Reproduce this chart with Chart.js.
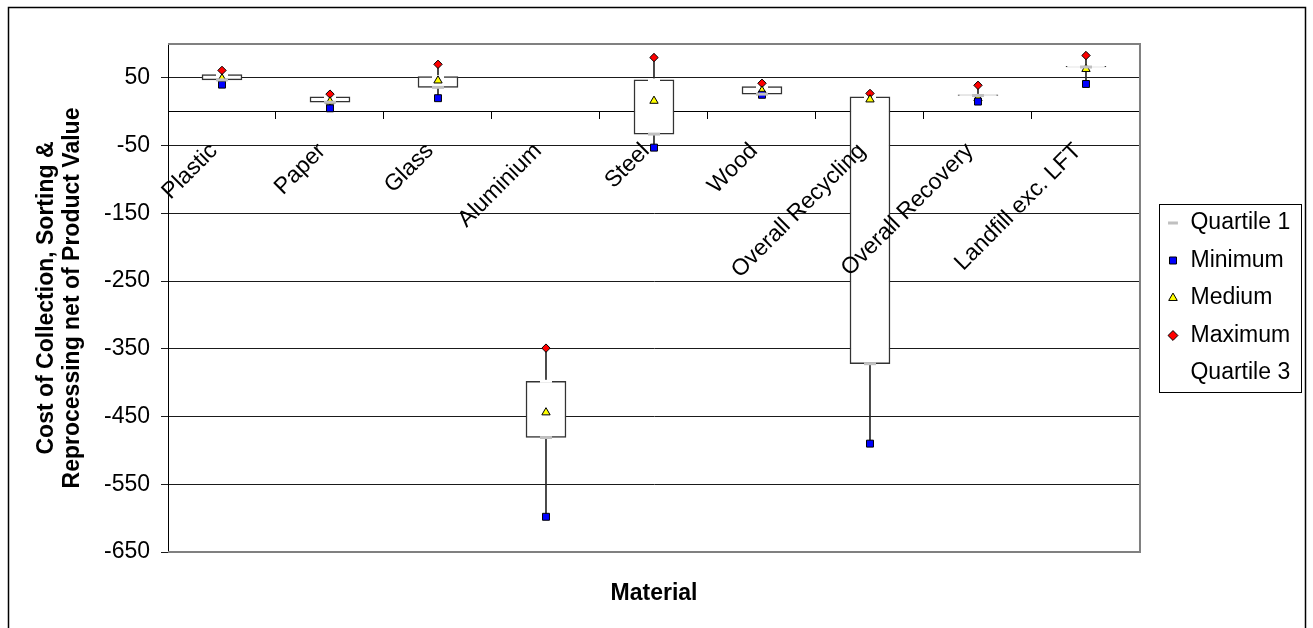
<!DOCTYPE html>
<html>
<head>
<meta charset="utf-8">
<script src="https://cdn.jsdelivr.net/npm/chart.js@4.4.1/dist/chart.umd.min.js"></script>
<style>
  html, body { margin: 0; padding: 0; background: #ffffff; }
  #wrap { position: relative; width: 1313px; height: 628px; }
</style>
</head>
<body>
<div id="wrap"><canvas id="chart" width="1313" height="628"></canvas></div>
<script>
// Five-number summaries per material
const materials = ['Plastic', 'Paper', 'Glass', 'Aluminium', 'Steel', 'Wood',
                   'Overall Recycling', 'Overall Recovery', 'Landfill exc. LFT'];
const minimum   = [40,  5, 20, -598, -53, 25, -490, 15, 41];
const quartile1 = [47, 14, 36, -481, -33, 26, -372, 24, 66];
const medium    = [49, 15, 46, -444,  16, 31,   18, 20, 63];
const maximum   = [61, 26, 70, -349,  80, 42,   27, 39, 83];
const quartile3 = [55, 22, 52, -398,  47, 37,   22, 25, 67];
const yTicks    = [-650, -550, -450, -350, -250, -150, -50, 50];

const FONT = "'Liberation Sans', Arial, Helvetica, sans-serif";
Chart.defaults.font.family = FONT;
Chart.defaults.font.size = 23;
Chart.defaults.color = '#000000';

// Frames: plot area outline, outer chart outline and legend box
const frames = {
  id: 'frames',
  beforeDatasetsDraw(chart) {
    const { ctx, chartArea: a } = chart;
    ctx.save();
    ctx.strokeStyle = '#808080';
    ctx.lineWidth = 2;
    ctx.beginPath();
    ctx.moveTo(a.left, a.top);
    ctx.lineTo(a.right, a.top);
    ctx.lineTo(a.right, a.bottom);
    ctx.lineTo(a.left, a.bottom);
    ctx.stroke();
    ctx.restore();
  },
  afterDraw(chart) {
    const { ctx } = chart;
    ctx.save();
    ctx.strokeStyle = '#000000';
    ctx.lineWidth = 1.5;
    ctx.beginPath();
    ctx.moveTo(8.5, 640);
    ctx.lineTo(8.5, 7.5);
    ctx.lineTo(1305.5, 7.5);
    ctx.lineTo(1305.5, 640);
    ctx.stroke();

    const hb = chart.legend.legendHitBoxes;
    if (hb && hb.length) {
      const first = hb[0], last = hb[hb.length - 1];
      const l = Math.round(first.left - 8) + 0.5;
      const t = Math.round(first.top - 8) + 0.5;
      const r = Math.round(first.left + 134) + 0.5;
      const b = Math.round(last.top + last.height + 7) + 0.5;
      ctx.lineWidth = 1;
      ctx.strokeRect(l, t, r - l, b - t);
    }
    ctx.restore();
  }
};

const markerBase = { type: 'line', showLine: false, pointBorderColor: '#000000', pointBorderWidth: 1, order: 0 };

new Chart(document.getElementById('chart'), {
  type: 'bar',
  data: {
    labels: materials,
    datasets: [
      Object.assign({}, markerBase, {
        label: 'Quartile 1', data: quartile1, pointStyle: 'line', pointRadius: 6,
        pointBorderColor: '#c0c0c0', pointBorderWidth: 3, pointBackgroundColor: '#c0c0c0',
        borderColor: '#c0c0c0', backgroundColor: '#c0c0c0'
      }),
      Object.assign({}, markerBase, {
        label: 'Minimum', data: minimum, pointStyle: 'rect', pointRadius: 4.9,
        pointBackgroundColor: '#0000ff', borderColor: '#000000', backgroundColor: '#0000ff'
      }),
      Object.assign({}, markerBase, {
        label: 'Medium', data: medium, pointStyle: 'triangle', pointRadius: 4.8,
        pointBackgroundColor: '#ffff00', borderColor: '#000000', backgroundColor: '#ffff00'
      }),
      Object.assign({}, markerBase, {
        label: 'Maximum', data: maximum, pointStyle: 'rectRot', pointRadius: 4.2,
        pointBackgroundColor: '#ff0000', borderColor: '#000000', backgroundColor: '#ff0000'
      }),
      Object.assign({}, markerBase, {
        label: 'Quartile 3', data: quartile3, pointStyle: 'line', pointRadius: 6,
        pointBorderColor: '#ffffff', pointBorderWidth: 3, pointBackgroundColor: '#ffffff',
        borderColor: '#ffffff', backgroundColor: '#ffffff'
      }),
      {
        label: 'High-Low', data: materials.map((_, i) => [minimum[i], maximum[i]]),
        backgroundColor: '#262626', borderWidth: 0, barThickness: 1, grouped: false, order: 2
      },
      {
        label: 'Box', data: materials.map((_, i) => [quartile1[i], quartile3[i]]),
        backgroundColor: '#ffffff', borderColor: '#333333', borderWidth: 1.5,
        borderSkipped: false, barThickness: 40, grouped: false, order: 1
      }
    ]
  },
  options: {
    responsive: false,
    animation: false,
    devicePixelRatio: 1,
    layout: { padding: { top: 44, right: 12.8, bottom: 0, left: 0 } },
    plugins: {
      tooltip: { enabled: false },
      legend: {
        position: 'right',
        align: 'center',
        fullSize: false,
        labels: {
          usePointStyle: true,
          boxWidth: 12,
          boxHeight: 7,
          padding: 14.5,
          font: { size: 23 },
          color: '#000000',
          filter: (item) => item.datasetIndex < 5
        }
      }
    },
    scales: {
      x: {
        position: { y: 0 },
        offset: true,
        grid: { display: true, drawOnChartArea: false, drawTicks: true, tickLength: 7, color: '#000000', offset: true },
        border: { display: true, color: '#000000', width: 1 },
        ticks: { minRotation: 45, maxRotation: 45, autoSkip: false, padding: 19, labelOffset: -8, z: 1, color: '#000000', font: { size: 23 } }
      },
      x2: {
        type: 'category',
        position: 'bottom',
        grid: { display: false, drawTicks: false },
        border: { display: false },
        ticks: { display: false },
        title: { display: true, text: 'Material', font: { size: 23, weight: 'bold' }, padding: { top: 0, bottom: 21 } },
        afterFit: (s) => { s.height = 76; }
      },
      y: {
        min: -650,
        max: 100,
        afterBuildTicks: (s) => { s.ticks = yTicks.map(v => ({ value: v })); },
        grid: { color: '#1a1a1a', lineWidth: 1, tickLength: 7 },
        border: { display: true, color: '#000000', width: 1 },
        ticks: { padding: 11, font: { size: 23 }, color: '#000000' },
        title: {
          display: true,
          text: ['Cost of Collection, Sorting &', 'Reprocessing net of Product Value'],
          font: { size: 23, weight: 'bold', lineHeight: 1.13 },
          padding: { top: 33.5, bottom: 0 }
        },
        afterFit: (s) => { s.width = 168; }
      },
      y2: {
        type: 'linear',
        position: 'right',
        display: true,
        grid: { display: false, drawTicks: false },
        border: { display: false },
        ticks: { display: false },
        afterFit: (s) => { s.width = 12.5; }
      }
    }
  },
  plugins: [frames]
});
</script>
</body>
</html>
